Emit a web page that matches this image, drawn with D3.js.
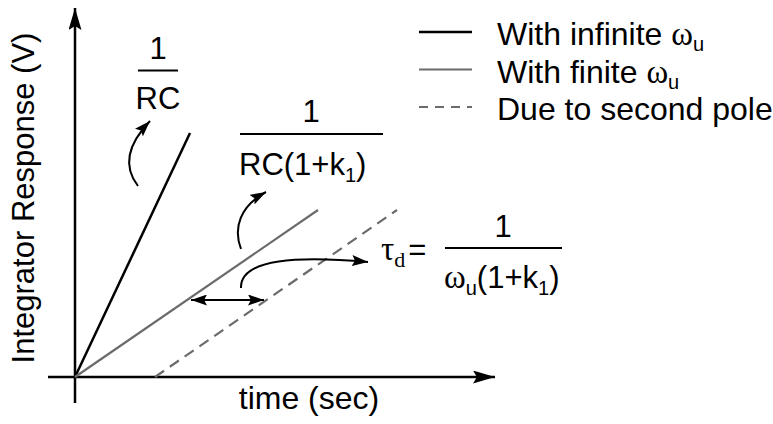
<!DOCTYPE html>
<html>
<head>
<meta charset="utf-8">
<script src="https://cdn.jsdelivr.net/npm/d3@7/dist/d3.min.js"></script>
<style>
  html, body { margin: 0; padding: 0; background: #fff; }
  svg { display: block; }
  .sans { font-family: "Liberation Sans", Arial, Helvetica, sans-serif; }
  .serif { font-family: "Liberation Serif", "Times New Roman", serif; }
</style>
</head>
<body>
<svg id="chart" width="773" height="424"></svg>
<script>
// Axis extents (time in arbitrary units, response in arbitrary volts)
const timeExtent = [-2.7, 42];
const voltExtent = [-2.6, 36.9];

// Integrator ramps: ideal (infinite unity-gain bandwidth), finite bandwidth, and delayed by the second pole
const idealT = [0, 11.5];
const idealV = [0, 24.4];
const finiteT = [0, 24.3];
const finiteV = [0, 16.7];
const delayedT = [8, 32.2];
const delayedV = [0, 16.7];

// Delay marker between finite and delayed ramps
const delayLevel = 7.7;
const delayT = [11.6, 18.9];

// Legend entries
const legendLabels = ["With infinite ", "With finite ", "Due to second pole"];
const legendOmega = [true, true, false];

const svg = d3.select("#chart");
const x = d3.scaleLinear().domain([0, 42]).range([75, 495]);
const y = d3.scaleLinear().domain([0, 36.9]).range([377, 8]);

const zip = (ts, vs) => ts.map((t, i) => ({ t, v: vs[i] }));
const line = d3.line().x(d => x(d.t)).y(d => y(d.v));

// Arrowhead markers (slightly notched back)
const defs = svg.append("defs");
function marker(id, len, wid) {
  defs.append("marker")
    .attr("id", id)
    .attr("viewBox", `0 0 ${len} ${wid}`)
    .attr("refX", len).attr("refY", wid / 2)
    .attr("markerUnits", "userSpaceOnUse")
    .attr("markerWidth", len).attr("markerHeight", wid)
    .attr("orient", "auto-start-reverse")
    .append("path")
    .attr("d", `M0,0 L${len},${wid / 2} L0,${wid} L${len * 0.18},${wid / 2} Z`)
    .attr("fill", "#000");
}
marker("axisHead", 22, 13);
marker("head", 16, 11);

// Axes
svg.append("line")
  .attr("x1", x(timeExtent[0])).attr("y1", y(0))
  .attr("x2", x(timeExtent[1])).attr("y2", y(0))
  .attr("stroke", "#000").attr("stroke-width", 2.5)
  .attr("marker-end", "url(#axisHead)");
svg.append("line")
  .attr("x1", x(0)).attr("y1", y(voltExtent[0]))
  .attr("x2", x(0)).attr("y2", y(voltExtent[1]))
  .attr("stroke", "#000").attr("stroke-width", 2.5)
  .attr("marker-end", "url(#axisHead)");

// Ramps
svg.append("path").attr("d", line(zip(idealT, idealV)))
  .attr("fill", "none").attr("stroke", "#000").attr("stroke-width", 2.5);
svg.append("path").attr("d", line(zip(finiteT, finiteV)))
  .attr("fill", "none").attr("stroke", "#6b6b6b").attr("stroke-width", 2.2);
svg.append("path").attr("d", line(zip(delayedT, delayedV)))
  .attr("fill", "none").attr("stroke", "#6b6b6b").attr("stroke-width", 2.2)
  .attr("stroke-dasharray", "11,7");

// Delay double arrow
svg.append("line")
  .attr("x1", x(delayT[0])).attr("y1", y(delayLevel))
  .attr("x2", x(delayT[1])).attr("y2", y(delayLevel))
  .attr("stroke", "#000").attr("stroke-width", 2)
  .attr("marker-start", "url(#head)")
  .attr("marker-end", "url(#head)");

// Curved pointer arrows
const pointers = [
  "M138,186 C124,168 126,146 150,121",
  "M241,249 C233,228 240,206 266,192",
  "M241,288 C240,258 300,256 368,262"
];
svg.selectAll("path.pointer").data(pointers).join("path")
  .attr("class", "pointer")
  .attr("d", d => d)
  .attr("fill", "none").attr("stroke", "#000").attr("stroke-width", 2)
  .attr("marker-end", "url(#head)");

const FS = 31;
const SUB = 20;

// Axis titles
svg.append("text").attr("class", "sans")
  .attr("transform", `translate(34,198) rotate(-90)`)
  .attr("text-anchor", "middle")
  .attr("font-size", 31)
  .text("Integrator Response (V)");
svg.append("text").attr("class", "sans")
  .attr("x", 309).attr("y", 409)
  .attr("text-anchor", "middle")
  .attr("font-size", 32)
  .text("time (sec)");

// Fraction bar
function bar(x1, x2, yy) {
  svg.append("line").attr("x1", x1).attr("x2", x2).attr("y1", yy).attr("y2", yy)
    .attr("stroke", "#000").attr("stroke-width", 2);
}

// 1 / RC
svg.append("text").attr("class", "sans").attr("x", 158).attr("y", 59)
  .attr("text-anchor", "middle").attr("font-size", FS).text("1");
bar(138, 178, 70.5);
svg.append("text").attr("class", "sans").attr("x", 158).attr("y", 109)
  .attr("text-anchor", "middle").attr("font-size", FS).text("RC");

// 1 / RC(1+k1)
svg.append("text").attr("class", "sans").attr("x", 311).attr("y", 122)
  .attr("text-anchor", "middle").attr("font-size", FS).text("1");
bar(240, 383, 134);
{
  const t = svg.append("text").attr("class", "sans").attr("x", 239).attr("y", 175)
    .attr("font-size", FS);
  t.append("tspan").text("RC(1+k");
  t.append("tspan").attr("font-size", SUB).attr("dy", 7).text("1");
  t.append("tspan").attr("dy", -7).text(")");
}

// tau_d = 1 / ωu(1+k1)
{
  const t = svg.append("text").attr("x", 381).attr("y", 260).attr("font-size", FS);
  t.append("tspan").attr("class", "serif").attr("font-size", 33).text("τ");
  t.append("tspan").attr("class", "serif").attr("font-size", 22).attr("dy", 7).text("d");
  t.append("tspan").attr("class", "sans").attr("dy", -7).attr("dx", 3).text("=");
}
svg.append("text").attr("class", "sans").attr("x", 503).attr("y", 237)
  .attr("text-anchor", "middle").attr("font-size", FS).text("1");
bar(445, 562, 248);
{
  const t = svg.append("text").attr("x", 444).attr("y", 288).attr("font-size", FS);
  t.append("tspan").attr("class", "serif").attr("font-size", 33).text("ω");
  t.append("tspan").attr("class", "sans").attr("font-size", SUB).attr("dy", 7).text("u");
  t.append("tspan").attr("class", "sans").attr("dy", -7).text("(1+k");
  t.append("tspan").attr("class", "sans").attr("font-size", SUB).attr("dy", 7).text("1");
  t.append("tspan").attr("class", "sans").attr("dy", -7).text(")");
}

// Legend
const legendStyles = [
  { stroke: "#000", width: 2.5, dash: null },
  { stroke: "#6b6b6b", width: 2.2, dash: null },
  { stroke: "#6b6b6b", width: 2.2, dash: "9,7" }
];
const legend = svg.append("g");
legendLabels.forEach((label, i) => {
  const base = 45 + i * 37.5;
  const st = legendStyles[i];
  legend.append("line")
    .attr("x1", 419).attr("x2", 472)
    .attr("y1", base - 13).attr("y2", base - 13)
    .attr("stroke", st.stroke).attr("stroke-width", st.width)
    .attr("stroke-dasharray", st.dash);
  const t = legend.append("text").attr("x", 497).attr("y", base).attr("font-size", 32);
  t.append("tspan").attr("class", "sans").text(label);
  if (legendOmega[i]) {
    t.append("tspan").attr("class", "serif").attr("font-size", 33).text("ω");
    t.append("tspan").attr("class", "sans").attr("font-size", SUB).attr("dy", 6).text("u");
  }
});
</script>
</body>
</html>
